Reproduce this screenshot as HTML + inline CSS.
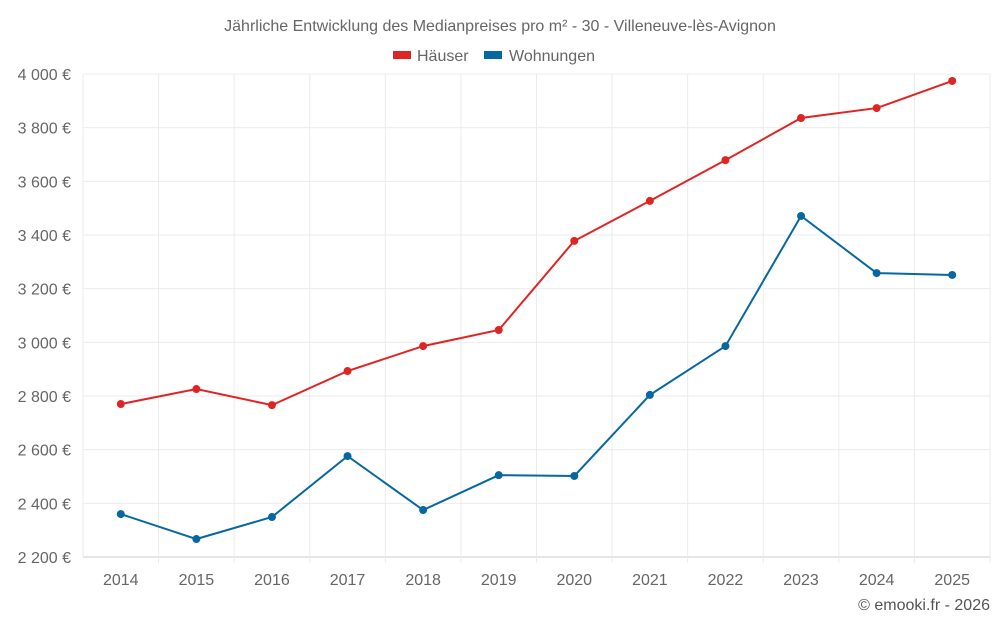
<!DOCTYPE html>
<html><head><meta charset="utf-8"><style>
body{margin:0;background:#fff;font-family:"Liberation Sans",sans-serif}
svg text{font-family:"Liberation Sans",sans-serif}
</style></head><body>
<svg width="1000" height="625">
<text x="500" y="31" text-anchor="middle" font-size="16" fill="#666">Jährliche Entwicklung des Medianpreises pro m² - 30 - Villeneuve-lès-Avignon</text>
<g>
<g><rect x="393" y="51" width="18" height="8" fill="#e02424"/><text x="417" y="61" font-size="16" fill="#666">Häuser</text></g>
<g><rect x="484" y="51" width="18" height="8" fill="#0767a0"/><text x="509" y="61" font-size="16" fill="#666">Wohnungen</text></g>
</g>
<g id="grid"></g><g id="axes"></g><g id="series"></g>
<text x="990" y="610" text-anchor="end" font-size="16" fill="#555">© emooki.fr - 2026</text>
</svg>
<script>
const years=["2014","2015","2016","2017","2018","2019","2020","2021","2022","2023","2024","2025"];
const hauser=[2770,2826,2766,2893,2986,3046,3378,3527,3679,3836,3873,3974];
const wohnungen=[2360,2267,2349,2576,2375,2505,2502,2804,2986,3471,3258,3251];
const yTicks=[2200,2400,2600,2800,3000,3200,3400,3600,3800,4000];
const tickLabels=["2 200 €","2 400 €","2 600 €","2 800 €","3 000 €","3 200 €","3 400 €","3 600 €","3 800 €","4 000 €"];
const L=83,R=990,T=74,B=557,ymin=2200,ymax=4000;
const step=(R-L)/years.length;
const x=i=>L+step*(i+0.5);
const y=v=>B-(v-ymin)/(ymax-ymin)*(B-T);
const NS="http://www.w3.org/2000/svg";
function mk(tag,attrs,parent){const e=document.createElementNS(NS,tag);for(const k in attrs)e.setAttribute(k,attrs[k]);parent.appendChild(e);return e;}
const g=document.getElementById('grid'),a=document.getElementById('axes'),s=document.getElementById('series');
yTicks.forEach((t,i)=>{
 const l=mk('line',{x1:L,x2:R,y1:y(t),y2:y(t),stroke:i==0?'#ccc':'#ebebeb'},g);
 
 
 const tx=mk('text',{x:71,y:y(t)+6,'text-anchor':'end','font-size':16,fill:'#666'},a);
 tx.textContent=tickLabels[i];
 
 
});
for(let i=0;i<=years.length;i++){
 const l=mk('line',{x1:L+step*i,x2:L+step*i,y1:T,y2:B+(i==0?0:6),stroke:'#ebebeb'},g);
 
 
}
years.forEach((yr,i)=>{
 const tx=mk('text',{x:x(i),y:585,'text-anchor':'middle','font-size':16,fill:'#666'},a);
 tx.textContent=yr;
 
 
});
function series(vals,color,name){
 const p=mk('polyline',{points:vals.map((v,i)=>x(i)+','+y(v)).join(' '),fill:'none',stroke:color,'stroke-width':2},s);
 
 
 vals.forEach((v,i)=>{
  const c=mk('circle',{cx:x(i),cy:y(v),r:4,fill:color},s);
  
  
 });
}
series(hauser,'#e02424','hauser');
series(wohnungen,'#0767a0','wohnungen');
</script>
</body></html>
